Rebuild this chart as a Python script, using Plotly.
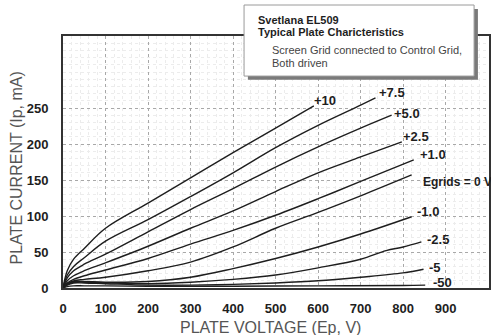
import plotly.graph_objects as go

# Plate characteristic curves: plate voltage (V) vs plate current (mA)
ep_p100 = [0, 10, 25, 50, 100, 200, 300, 400, 500, 590]
ip_p100 = [0, 24, 40, 55, 83, 118, 153, 188, 222, 253]

ep_p75 = [0, 10, 25, 50, 100, 200, 300, 400, 500, 600, 700, 735]
ip_p75 = [0, 18, 30, 42, 65, 95, 127, 160, 195, 226, 254, 264]

ep_p50 = [0, 10, 25, 50, 100, 200, 300, 400, 500, 600, 700, 773]
ip_p50 = [0, 14, 24, 33, 47, 78, 109, 138, 168, 196, 222, 240]

ep_p25 = [0, 10, 25, 50, 100, 200, 300, 400, 500, 600, 700, 797]
ip_p25 = [0, 10, 17, 24, 35, 58, 83, 107, 134, 160, 182, 203]

ep_p10 = [0, 10, 25, 50, 100, 200, 300, 400, 500, 600, 700, 825]
ip_p10 = [0, 7, 12, 17, 25, 41, 61, 80, 101, 124, 148, 178]

ep_0 = [0, 10, 25, 50, 100, 200, 300, 400, 500, 600, 700, 820]
ip_0 = [0, 6, 10, 12, 15, 24, 36, 57, 83, 105, 128, 157]

ep_m10 = [0, 10, 25, 50, 100, 200, 300, 400, 500, 600, 700, 820]
ip_m10 = [0, 6, 9, 9, 8, 9, 15, 27, 41, 57, 75, 99]

ep_m25 = [0, 10, 25, 50, 100, 200, 300, 400, 500, 600, 700, 760, 800, 843]
ip_m25 = [0, 5, 8, 8, 7, 6, 8, 12, 18, 28, 40, 52, 57, 64]

ep_m5 = [0, 10, 25, 50, 100, 200, 300, 400, 500, 600, 700, 800, 848]
ip_m5 = [0, 4, 7, 7, 6, 4, 4, 5, 7, 10, 15, 21, 26]

ep_m50 = [0, 10, 25, 50, 100, 200, 400, 600, 800, 852]
ip_m50 = [0, 2, 3, 3, 3, 2.5, 2.5, 3, 3.5, 4]

curve_labels = ["+10", "+7.5", "+5.0", "+2.5", "+1.0", "Egrids = 0 V",
                "-1.0", "-2.5", "-5", "-50"]
curves = [(ep_p100, ip_p100), (ep_p75, ip_p75), (ep_p50, ip_p50),
          (ep_p25, ip_p25), (ep_p10, ip_p10), (ep_0, ip_0),
          (ep_m10, ip_m10), (ep_m25, ip_m25), (ep_m5, ip_m5),
          (ep_m50, ip_m50)]
# label anchor offsets (V, mA) from each curve's end point
label_offsets = [(-5, 8), (3, 7), (2, 3), (-1, 8), (11, 7), (23, -10),
                 (9, 7), (9, 4), (7, 3), (14, 4)]
label_sizes = [13, 13, 13, 13, 13, 12, 13, 13, 13, 13]

x_ticks = [0, 100, 200, 300, 400, 500, 600, 700, 800, 900]
y_ticks = [0, 50, 100, 150, 200, 250]

bold_font = "Liberation Sans, Arial, Helvetica, sans-serif"
plain_font = "Liberation Sans, Arial, Helvetica, sans-serif"
ink = "#1e1e1e"

fig = go.Figure()
for (ep, ip) in curves:
    fig.add_trace(go.Scatter(x=ep, y=ip, mode="lines", line_shape="spline",
                             line=dict(color=ink, width=1.4),
                             hoverinfo="skip", showlegend=False))

for (ep, ip), txt, (dx, dy), fs in zip(curves, curve_labels, label_offsets, label_sizes):
    fig.add_annotation(x=ep[-1] + dx, y=ip[-1] + dy, text="<b>" + txt + "</b>",
                       showarrow=False, xanchor="left", yanchor="middle",
                       font=dict(family=bold_font, size=fs, color=ink))

axis_common = dict(showline=True, linecolor="#333", linewidth=2, mirror=True,
                   gridcolor="#a8a8a8", griddash="dot", gridwidth=1,
                   zeroline=False, ticks="",
                   tickfont=dict(family=bold_font, size=13, color=ink))

fig.update_xaxes(range=[0, 1002], tickvals=x_ticks, ticktext=[f"<b>{v}</b>" for v in x_ticks],
                 minor=dict(dtick=20, showgrid=True, gridcolor="#ececec", griddash="dot"),
                 ticklabelstandoff=7, **axis_common)
fig.update_yaxes(range=[0, 350], tickvals=y_ticks, ticktext=[f"<b>{v}</b>" for v in y_ticks],
                 minor=dict(dtick=10, showgrid=True, gridcolor="#ececec", griddash="dot"),
                 ticklabelstandoff=10, **axis_common)

# axis titles
fig.add_annotation(xref="paper", yref="paper", x=0.488, y=-0.155, text="PLATE VOLTAGE (Ep, V)",
                   showarrow=False, xanchor="center", yanchor="middle",
                   font=dict(family=plain_font, size=16, color="#555"))
fig.add_annotation(xref="paper", yref="paper", x=-0.11, y=0.475, text="PLATE CURRENT (Ip, mA)",
                   showarrow=False, textangle=-90, xanchor="center", yanchor="middle",
                   font=dict(family=plain_font, size=16, color="#555"))

# title box with drop shadow
fig.add_shape(type="rect", xref="paper", yref="paper", x0=0.434, x1=0.974, y0=0.826, y1=1.107,
              fillcolor="#7a7a7a", line=dict(width=0), layer="above")
fig.add_shape(type="rect", xref="paper", yref="paper", x0=0.425, x1=0.965, y0=0.841, y1=1.123,
              fillcolor="white", line=dict(color="#9a9a9a", width=1), layer="above")
box_lines = [
    ("<b>Svetlana EL509</b>", 0.453, 1.063, 11, ink),
    ("<b>Typical Plate Charicteristics</b>", 0.453, 1.016, 11, ink),
    ("Screen Grid connected to Control Grid,", 0.486, 0.944, 11, "#444"),
    ("Both driven", 0.486, 0.893, 11, "#444"),
]
for txt, bx, by, fs, col in box_lines:
    fig.add_annotation(xref="paper", yref="paper", x=bx, y=by, text=txt,
                       showarrow=False, xanchor="left", yanchor="middle", align="left",
                       font=dict(family=plain_font, size=fs, color=col))

fig.update_layout(width=491, height=335, margin=dict(l=63, r=0, t=36, b=47),
                  paper_bgcolor="white", plot_bgcolor="white")

fig.write_html("out.html")
